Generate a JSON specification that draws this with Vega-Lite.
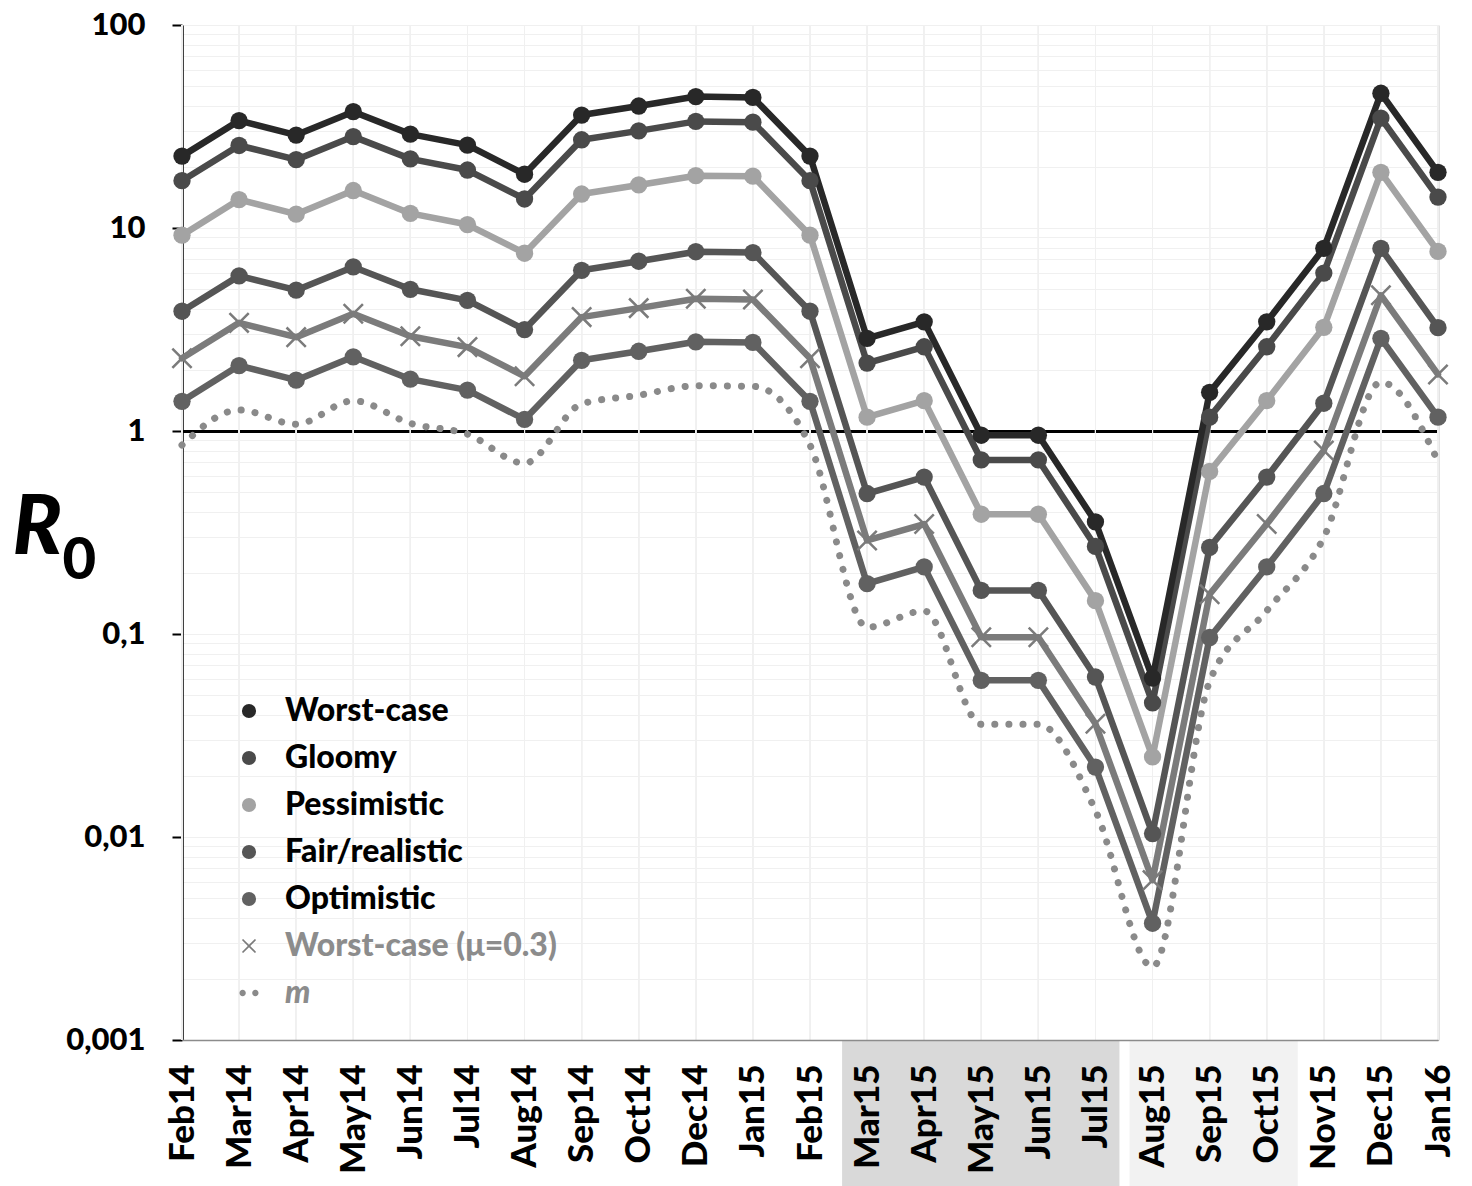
{
  "$schema": "https://vega.github.io/schema/vega-lite/v6.json",
  "width": 1256,
  "height": 1015,
  "autosize": {"type": "none"},
  "padding": {"left": 182, "top": 25, "right": 34, "bottom": 146},
  "background": "#ffffff",
  "config": {"view": {"stroke": null}, "font": "Lato"},
  "data": {"values": [
    {"month":"Feb14","series":"Optimistic","value":1.40},{"month":"Mar14","series":"Optimistic","value":2.10},{"month":"Apr14","series":"Optimistic","value":1.78},{"month":"May14","series":"Optimistic","value":2.32},{"month":"Jun14","series":"Optimistic","value":1.80},{"month":"Jul14","series":"Optimistic","value":1.59},{"month":"Aug14","series":"Optimistic","value":1.14},{"month":"Sep14","series":"Optimistic","value":2.23},{"month":"Oct14","series":"Optimistic","value":2.47},{"month":"Dec14","series":"Optimistic","value":2.75},{"month":"Jan15","series":"Optimistic","value":2.73},{"month":"Feb15","series":"Optimistic","value":1.40},{"month":"Mar15","series":"Optimistic","value":0.177},{"month":"Apr15","series":"Optimistic","value":0.214},{"month":"May15","series":"Optimistic","value":0.0591},{"month":"Jun15","series":"Optimistic","value":0.0591},{"month":"Jul15","series":"Optimistic","value":0.0221},{"month":"Aug15","series":"Optimistic","value":0.00376},{"month":"Sep15","series":"Optimistic","value":0.0961},{"month":"Oct15","series":"Optimistic","value":0.214},{"month":"Nov15","series":"Optimistic","value":0.492},{"month":"Dec15","series":"Optimistic","value":2.86},{"month":"Jan16","series":"Optimistic","value":1.17},
    {"month":"Feb14","series":"Worst-case (μ=0.3)","value":2.28},{"month":"Mar14","series":"Worst-case (μ=0.3)","value":3.41},{"month":"Apr14","series":"Worst-case (μ=0.3)","value":2.90},{"month":"May14","series":"Worst-case (μ=0.3)","value":3.78},{"month":"Jun14","series":"Worst-case (μ=0.3)","value":2.93},{"month":"Jul14","series":"Worst-case (μ=0.3)","value":2.59},{"month":"Aug14","series":"Worst-case (μ=0.3)","value":1.86},{"month":"Sep14","series":"Worst-case (μ=0.3)","value":3.64},{"month":"Oct14","series":"Worst-case (μ=0.3)","value":4.03},{"month":"Dec14","series":"Worst-case (μ=0.3)","value":4.48},{"month":"Jan15","series":"Worst-case (μ=0.3)","value":4.44},{"month":"Feb15","series":"Worst-case (μ=0.3)","value":2.28},{"month":"Mar15","series":"Worst-case (μ=0.3)","value":0.289},{"month":"Apr15","series":"Worst-case (μ=0.3)","value":0.348},{"month":"May15","series":"Worst-case (μ=0.3)","value":0.0963},{"month":"Jun15","series":"Worst-case (μ=0.3)","value":0.0963},{"month":"Jul15","series":"Worst-case (μ=0.3)","value":0.0361},{"month":"Aug15","series":"Worst-case (μ=0.3)","value":0.00613},{"month":"Sep15","series":"Worst-case (μ=0.3)","value":0.157},{"month":"Oct15","series":"Worst-case (μ=0.3)","value":0.348},{"month":"Nov15","series":"Worst-case (μ=0.3)","value":0.802},{"month":"Dec15","series":"Worst-case (μ=0.3)","value":4.66},{"month":"Jan16","series":"Worst-case (μ=0.3)","value":1.90},
    {"month":"Feb14","series":"Fair/realistic","value":3.89},{"month":"Mar14","series":"Fair/realistic","value":5.81},{"month":"Apr14","series":"Fair/realistic","value":4.94},{"month":"May14","series":"Fair/realistic","value":6.43},{"month":"Jun14","series":"Fair/realistic","value":4.99},{"month":"Jul14","series":"Fair/realistic","value":4.40},{"month":"Aug14","series":"Fair/realistic","value":3.16},{"month":"Sep14","series":"Fair/realistic","value":6.19},{"month":"Oct14","series":"Fair/realistic","value":6.86},{"month":"Dec14","series":"Fair/realistic","value":7.64},{"month":"Jan15","series":"Fair/realistic","value":7.57},{"month":"Feb15","series":"Fair/realistic","value":3.89},{"month":"Mar15","series":"Fair/realistic","value":0.492},{"month":"Apr15","series":"Fair/realistic","value":0.593},{"month":"May15","series":"Fair/realistic","value":0.164},{"month":"Jun15","series":"Fair/realistic","value":0.164},{"month":"Jul15","series":"Fair/realistic","value":0.0614},{"month":"Aug15","series":"Fair/realistic","value":0.0104},{"month":"Sep15","series":"Fair/realistic","value":0.267},{"month":"Oct15","series":"Fair/realistic","value":0.593},{"month":"Nov15","series":"Fair/realistic","value":1.37},{"month":"Dec15","series":"Fair/realistic","value":7.93},{"month":"Jan16","series":"Fair/realistic","value":3.23},
    {"month":"Feb14","series":"Pessimistic","value":9.22},{"month":"Mar14","series":"Pessimistic","value":13.8},{"month":"Apr14","series":"Pessimistic","value":11.7},{"month":"May14","series":"Pessimistic","value":15.3},{"month":"Jun14","series":"Pessimistic","value":11.8},{"month":"Jul14","series":"Pessimistic","value":10.4},{"month":"Aug14","series":"Pessimistic","value":7.51},{"month":"Sep14","series":"Pessimistic","value":14.7},{"month":"Oct14","series":"Pessimistic","value":16.3},{"month":"Dec14","series":"Pessimistic","value":18.1},{"month":"Jan15","series":"Pessimistic","value":18.0},{"month":"Feb15","series":"Pessimistic","value":9.22},{"month":"Mar15","series":"Pessimistic","value":1.17},{"month":"Apr15","series":"Pessimistic","value":1.41},{"month":"May15","series":"Pessimistic","value":0.389},{"month":"Jun15","series":"Pessimistic","value":0.389},{"month":"Jul15","series":"Pessimistic","value":0.146},{"month":"Aug15","series":"Pessimistic","value":0.0248},{"month":"Sep15","series":"Pessimistic","value":0.632},{"month":"Oct15","series":"Pessimistic","value":1.41},{"month":"Nov15","series":"Pessimistic","value":3.24},{"month":"Dec15","series":"Pessimistic","value":18.8},{"month":"Jan16","series":"Pessimistic","value":7.67},
    {"month":"Feb14","series":"Gloomy","value":17.1},{"month":"Mar14","series":"Gloomy","value":25.5},{"month":"Apr14","series":"Gloomy","value":21.7},{"month":"May14","series":"Gloomy","value":28.2},{"month":"Jun14","series":"Gloomy","value":21.9},{"month":"Jul14","series":"Gloomy","value":19.3},{"month":"Aug14","series":"Gloomy","value":13.9},{"month":"Sep14","series":"Gloomy","value":27.2},{"month":"Oct14","series":"Gloomy","value":30.1},{"month":"Dec14","series":"Gloomy","value":33.5},{"month":"Jan15","series":"Gloomy","value":33.2},{"month":"Feb15","series":"Gloomy","value":17.1},{"month":"Mar15","series":"Gloomy","value":2.16},{"month":"Apr15","series":"Gloomy","value":2.60},{"month":"May15","series":"Gloomy","value":0.720},{"month":"Jun15","series":"Gloomy","value":0.720},{"month":"Jul15","series":"Gloomy","value":0.270},{"month":"Aug15","series":"Gloomy","value":0.0458},{"month":"Sep15","series":"Gloomy","value":1.17},{"month":"Oct15","series":"Gloomy","value":2.60},{"month":"Nov15","series":"Gloomy","value":6.00},{"month":"Dec15","series":"Gloomy","value":34.8},{"month":"Jan16","series":"Gloomy","value":14.2},
    {"month":"Feb14","series":"Worst-case","value":22.6},{"month":"Mar14","series":"Worst-case","value":33.8},{"month":"Apr14","series":"Worst-case","value":28.7},{"month":"May14","series":"Worst-case","value":37.4},{"month":"Jun14","series":"Worst-case","value":29.0},{"month":"Jul14","series":"Worst-case","value":25.6},{"month":"Aug14","series":"Worst-case","value":18.4},{"month":"Sep14","series":"Worst-case","value":36.0},{"month":"Oct14","series":"Worst-case","value":39.9},{"month":"Dec14","series":"Worst-case","value":44.4},{"month":"Jan15","series":"Worst-case","value":44.0},{"month":"Feb15","series":"Worst-case","value":22.6},{"month":"Mar15","series":"Worst-case","value":2.86},{"month":"Apr15","series":"Worst-case","value":3.45},{"month":"May15","series":"Worst-case","value":0.953},{"month":"Jun15","series":"Worst-case","value":0.953},{"month":"Jul15","series":"Worst-case","value":0.357},{"month":"Aug15","series":"Worst-case","value":0.0607},{"month":"Sep15","series":"Worst-case","value":1.55},{"month":"Oct15","series":"Worst-case","value":3.45},{"month":"Nov15","series":"Worst-case","value":7.94},{"month":"Dec15","series":"Worst-case","value":46.1},{"month":"Jan16","series":"Worst-case","value":18.8},
    {"month":"Feb14","series":"m","value":0.852},{"month":"Mar14","series":"m","value":1.27},{"month":"Apr14","series":"m","value":1.08},{"month":"May14","series":"m","value":1.41},{"month":"Jun14","series":"m","value":1.09},{"month":"Jul14","series":"m","value":0.965},{"month":"Aug14","series":"m","value":0.694},{"month":"Sep14","series":"m","value":1.36},{"month":"Oct14","series":"m","value":1.50},{"month":"Dec14","series":"m","value":1.67},{"month":"Jan15","series":"m","value":1.66},{"month":"Feb15","series":"m","value":0.852},{"month":"Mar15","series":"m","value":0.108},{"month":"Apr15","series":"m","value":0.130},{"month":"May15","series":"m","value":0.0359},{"month":"Jun15","series":"m","value":0.0359},{"month":"Jul15","series":"m","value":0.0135},{"month":"Aug15","series":"m","value":0.00229},{"month":"Sep15","series":"m","value":0.0584},{"month":"Oct15","series":"m","value":0.130},{"month":"Nov15","series":"m","value":0.299},{"month":"Dec15","series":"m","value":1.74},{"month":"Jan16","series":"m","value":0.709}
  ]},
  "resolve": {"axis": {"y": "independent"}},
  "layer": [
    {
      "mark": {"type": "rule", "color": "#f0f0f0", "strokeWidth": 1},
      "encoding": {
        "x": {"field": "month", "type": "ordinal", "title": null,
          "scale": {"type": "point", "padding": 0, "domain": ["Feb14","Mar14","Apr14","May14","Jun14","Jul14","Aug14","Sep14","Oct14","Dec14","Jan15","Feb15","Mar15","Apr15","May15","Jun15","Jul15","Aug15","Sep15","Oct15","Nov15","Dec15","Jan16"]},
          "axis": {"orient": "bottom", "labelAngle": 270, "labelAlign": "right", "labelBaseline": "middle", "labelFont": "Lato", "labelFontSize": 35, "labelFontWeight": 900, "labelColor": "#000000", "labelPadding": 24, "labelOverlap": false, "ticks": false, "grid": false, "domainColor": "#8c8c8c", "domainWidth": 1.5, "zindex": 1}}
      }
    },
    {
      "data": {"values": [{"from": "Mar15", "to": "Jul15"}]},
      "mark": {"type": "rect", "color": "#d9d9d9", "xOffset": -25, "x2Offset": 24},
      "encoding": {
        "x": {"field": "from", "type": "ordinal", "title": null},
        "x2": {"field": "to"},
        "y": {"datum": 0.001, "type": "quantitative", "scale": {"type": "log", "domain": [0.001, 100], "nice": false}, "axis": null},
        "y2": {"datum": 0.00018}
      }
    },
    {
      "data": {"values": [{"from": "Aug15", "to": "Oct15"}]},
      "mark": {"type": "rect", "color": "#f2f2f2", "xOffset": -23, "x2Offset": 31},
      "encoding": {
        "x": {"field": "from", "type": "ordinal", "title": null},
        "x2": {"field": "to"},
        "y": {"datum": 0.001, "type": "quantitative", "scale": {"type": "log", "domain": [0.001, 100], "nice": false}, "axis": null},
        "y2": {"datum": 0.00018}
      }
    },
    {
      "transform": [{"filter": "datum.series != 'm'"}],
      "mark": {"type": "line", "strokeWidth": 6.5, "strokeJoin": "round", "strokeCap": "round"},
      "encoding": {
        "x": {"field": "month", "type": "ordinal", "title": null},
        "y": {"field": "value", "type": "quantitative", "scale": {"type": "log", "domain": [0.001, 100], "nice": false},
          "axis": {"orient": "left", "title": "R",
            "values": [0.001,0.002,0.003,0.004,0.005,0.006,0.007,0.008,0.009,0.01,0.02,0.03,0.04,0.05,0.06,0.07,0.08,0.09,0.1,0.2,0.3,0.4,0.5,0.6,0.7,0.8,0.9,1,2,3,4,5,6,7,8,9,10,20,30,40,50,60,70,80,90,100],
            "labelExpr": "abs(log(datum.value)/LN10 - round(log(datum.value)/LN10)) < 0.001 ? replace(format(datum.value, '~g'), '.', ',') : ''",
            "labelFont": "Lato", "labelFontSize": 31, "labelFontWeight": 900, "labelColor": "#000000", "labelPadding": 27, "labelOverlap": false, "labelBound": false,
            "tickSize": 10, "tickColor": "#000000", "tickWidth": 2,
            "tickOpacity": {"condition": {"test": "abs(log(datum.value)/LN10 - round(log(datum.value)/LN10)) < 0.001", "value": 1}, "value": 0},
            "domainColor": "#000000", "domainWidth": 2.5,
            "grid": true,
            "gridColor": {"condition": {"test": "datum.value == 1", "value": "#000000"}, "value": "#f0f0f0"},
            "gridWidth": {"condition": {"test": "datum.value == 1", "value": 3}, "value": 1},
            "titleX": -170, "titleY": 528, "titleAngle": 0, "titleAlign": "left", "titleBaseline": "alphabetic",
            "titleFont": "Lato", "titleFontSize": 82, "titleFontWeight": 900, "titleFontStyle": "italic", "titleColor": "#000000"}},
        "stroke": {"field": "series", "type": "nominal", "legend": null,
          "scale": {"domain": ["m","Optimistic","Worst-case (μ=0.3)","Fair/realistic","Pessimistic","Gloomy","Worst-case"],
                    "range": ["#8a8a8a","#616161","#7b7b7b","#555555","#a3a3a3","#4a4a4a","#282828"]}}
      }
    },
    {
      "transform": [{"filter": "datum.series == 'm'"}],
      "mark": {"type": "line", "strokeWidth": 7, "strokeCap": "round", "strokeDash": [0.1, 14], "interpolate": "monotone"},
      "encoding": {
        "x": {"field": "month", "type": "ordinal", "title": null},
        "y": {"field": "value", "type": "quantitative", "scale": {"type": "log", "domain": [0.001, 100], "nice": false},
          "axis": {"orient": "right", "title": "0", "labels": false, "ticks": false, "grid": false, "domain": true, "domainColor": "#8c8c8c", "domainWidth": 1.5,
            "titleX": -1376, "titleY": 553, "titleAngle": 0, "titleAlign": "left", "titleBaseline": "alphabetic",
            "titleFont": "Lato", "titleFontSize": 58, "titleFontWeight": 900, "titleColor": "#000000"}},
        "stroke": {"field": "series", "type": "nominal", "legend": null}
      }
    },
    {
      "transform": [{"filter": "datum.series != 'm' && datum.series != 'Worst-case (μ=0.3)'"}],
      "mark": {"type": "point", "filled": true, "opacity": 1, "size": 300},
      "encoding": {
        "x": {"field": "month", "type": "ordinal", "title": null},
        "y": {"field": "value", "type": "quantitative", "scale": {"type": "log", "domain": [0.001, 100], "nice": false}, "axis": null},
        "color": {"field": "series", "type": "nominal",
          "scale": {"domain": ["Worst-case","Gloomy","Pessimistic","Fair/realistic","Optimistic","Worst-case (μ=0.3)","m"],
                    "range": ["#282828","#4a4a4a","#a3a3a3","#555555","#616161","#7b7b7b","#8a8a8a"]},
          "legend": {"title": null, "orient": "none", "legendX": 51, "legendY": 670, "labelFont": "Lato", "labelFontSize": 32, "labelFontWeight": 900, "symbolSize": 200, "symbolOpacity": 1, "symbolStrokeWidth": 0, "rowPadding": 15, "labelOffset": 20, "labelLimit": 600,
            "encode": {"labels": {"update": {"fill": [{"test": "datum.value === 'm' || datum.value === 'Worst-case (μ=0.3)'", "value": "#8c8c8c"}, {"value": "#000000"}], "fontStyle": [{"test": "datum.value === 'm'", "value": "italic"}, {"value": "normal"}]}}}}},
        "shape": {"field": "series", "type": "nominal",
          "scale": {"domain": ["Worst-case","Gloomy","Pessimistic","Fair/realistic","Optimistic","Worst-case (μ=0.3)","m"],
                    "range": ["circle","circle","circle","circle","circle","M0.834,-1.004L1.004,-0.834L0.17,0L1.004,0.834L0.834,1.004L0,0.17L-0.834,1.004L-1.004,0.834L-0.17,0L-1.004,-0.834L-0.834,-1.004L0,-0.17Z","M-1.35,0a0.45,0.45 0 1,0 0.9,0a0.45,0.45 0 1,0 -0.9,0M0.45,0a0.45,0.45 0 1,0 0.9,0a0.45,0.45 0 1,0 -0.9,0"]},
          "legend": {"title": null, "orient": "none", "legendX": 51, "legendY": 670, "labelFont": "Lato", "labelFontSize": 32, "labelFontWeight": 900, "symbolSize": 200, "symbolOpacity": 1, "symbolStrokeWidth": 0, "rowPadding": 15, "labelOffset": 20, "labelLimit": 600,
            "encode": {"labels": {"update": {"fill": [{"test": "datum.value === 'm' || datum.value === 'Worst-case (μ=0.3)'", "value": "#8c8c8c"}, {"value": "#000000"}], "fontStyle": [{"test": "datum.value === 'm'", "value": "italic"}, {"value": "normal"}]}}}}}
      }
    },
    {
      "transform": [{"filter": "datum.series == 'Worst-case (μ=0.3)'"}],
      "mark": {"type": "point", "filled": true, "opacity": 1, "size": 440},
      "encoding": {
        "x": {"field": "month", "type": "ordinal", "title": null},
        "y": {"field": "value", "type": "quantitative", "scale": {"type": "log", "domain": [0.001, 100], "nice": false}, "axis": null},
        "color": {"field": "series", "type": "nominal"},
        "shape": {"field": "series", "type": "nominal"}
      }
    }
  ]
}
